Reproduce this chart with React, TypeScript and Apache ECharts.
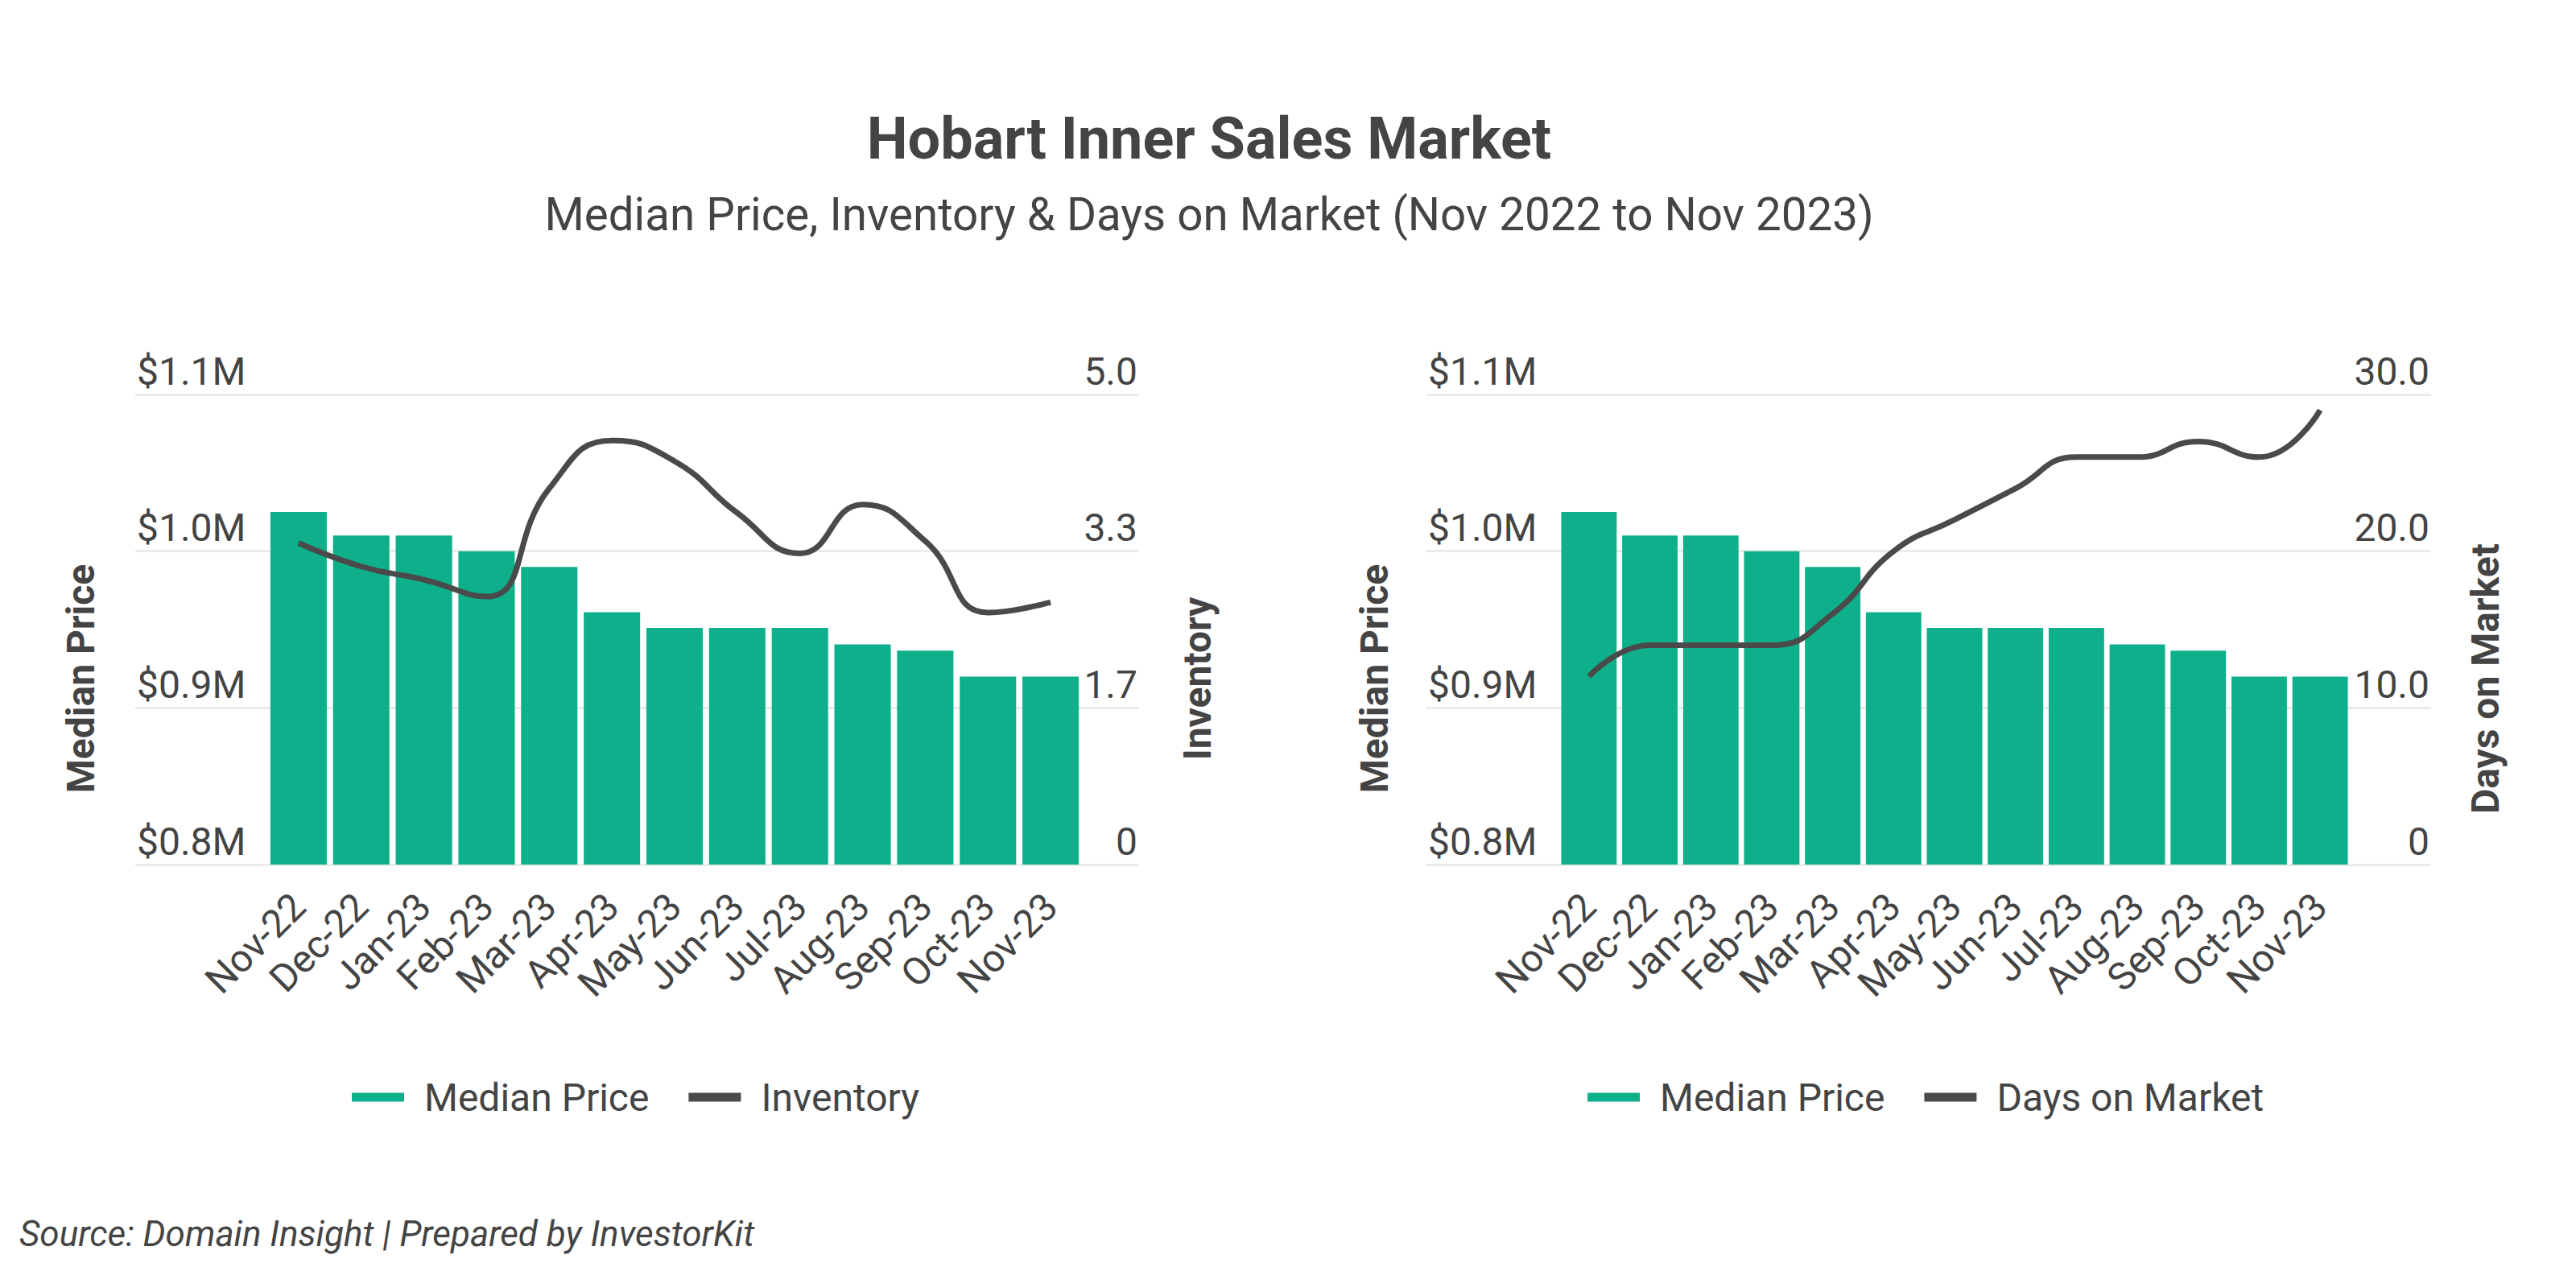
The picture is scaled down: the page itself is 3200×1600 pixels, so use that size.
import React, { useEffect, useRef } from "react";
import * as echarts from "echarts";

const months = ["Nov-22","Dec-22","Jan-23","Feb-23","Mar-23","Apr-23","May-23","Jun-23","Jul-23","Aug-23","Sep-23","Oct-23","Nov-23"];
const medianPrice = [1025000, 1010000, 1010000, 1000000, 990000, 961000, 951000, 951000, 951000, 940500, 936500, 920000, 920000];
const inventory = [3.42, 3.17, 3.03, 2.85, 4.0, 4.51, 4.29, 3.74, 3.31, 3.83, 3.44, 2.68, 2.79];
const daysOnMarket = [12, 14, 14, 14, 16, 20, 22, 24, 26, 26, 27, 26, 29];
const priceTicks = { min: 800000, max: 1100000, interval: 100000 };
const inventoryTicks = { min: 0, max: 5, interval: 5 / 3 };
const domTicks = { min: 0, max: 30, interval: 10 };

const TEXT = "#444444";
const GREEN = "#0db08a";
const DARK = "#4a4a4a";
const FONT = "Roboto";

const priceFmt = (v: number) => "$" + (v / 1e6).toFixed(1) + "M";
const numFmt = (v: number) => (Math.abs(v) < 1e-9 ? "0" : v.toFixed(1));

function wideAxes(gridIndex: number, right: { min: number; max: number; interval: number }) {
  const label = {
    inside: true,
    fontSize: 48,
    color: TEXT,
    fontFamily: FONT,
    verticalAlign: "bottom",
    lineHeight: 58,
    margin: 2,
  };
  return [
    {
      type: "value",
      gridIndex,
      position: "left",
      ...priceTicks,
      axisLine: { show: false },
      axisTick: { show: false },
      axisLabel: { ...label, formatter: priceFmt },
      splitLine: { show: true, lineStyle: { color: "#ebebeb", width: 3 } },
    },
    {
      type: "value",
      gridIndex,
      position: "right",
      ...right,
      axisLine: { show: false },
      axisTick: { show: false },
      axisLabel: { ...label, formatter: numFmt },
      splitLine: { show: false },
    },
  ];
}

function hiddenAxes(gridIndex: number, right: { min: number; max: number; interval: number }) {
  return [
    { type: "value", gridIndex, position: "left", ...priceTicks, show: false, splitLine: { show: false } },
    { type: "value", gridIndex, position: "right", ...right, show: false, splitLine: { show: false } },
  ];
}

function catAxis(gridIndex: number) {
  return {
    type: "category",
    gridIndex,
    data: months,
    axisLine: { show: false },
    axisTick: { show: false },
    axisLabel: {
      interval: 0,
      rotate: 45,
      fontSize: 48,
      color: TEXT,
      fontFamily: FONT,
      margin: 44,
    },
  };
}

export default function App() {
  const ref = useRef<HTMLDivElement>(null);
  useEffect(() => {
    document.body.style.margin = "0";
    if (!ref.current) return;
    const chart = echarts.init(ref.current, null, { renderer: "svg" });
    const axisNameStyle = { fontSize: 48, fontWeight: "bold", fill: TEXT, fontFamily: FONT, textAlign: "center", textVerticalAlign: "middle" };
    const option: any = {
      animation: false,
      backgroundColor: "#ffffff",
      textStyle: { fontFamily: FONT },
      title: [
        {
          text: "Hobart Inner Sales Market",
          left: 1502,
          top: 136,
          textAlign: "center",
          padding: 0,
          textStyle: { fontSize: 72, fontWeight: "bold", color: TEXT, fontFamily: FONT, lineHeight: 72 },
        },
        {
          text: "Median Price, Inventory & Days on Market (Nov 2022 to Nov 2023)",
          left: 1502,
          top: 239,
          textAlign: "center",
          padding: 0,
          textStyle: { fontSize: 56.5, fontWeight: "normal", color: TEXT, fontFamily: FONT, lineHeight: 56 },
        },
        {
          text: "Source: Domain Insight | Prepared by InvestorKit",
          left: 24,
          top: 1511,
          padding: 0,
          textStyle: { fontSize: 44, fontWeight: "normal", fontStyle: "italic", color: TEXT, fontFamily: FONT, lineHeight: 44 },
        },
      ],
      legend: [
        {
          data: ["Median Price", "Inventory"],
          left: 437,
          top: 1339,
          padding: 0,
          icon: "rect",
          itemWidth: 65,
          itemHeight: 11,
          itemGap: 49,
          selectedMode: false,
          textStyle: { fontSize: 48, color: TEXT, fontFamily: FONT, lineHeight: 48, padding: [0, 0, 0, 20] },
        },
        {
          data: ["Median Price", "Days on Market"],
          left: 1972,
          top: 1339,
          padding: 0,
          icon: "rect",
          itemWidth: 65,
          itemHeight: 11,
          itemGap: 49,
          selectedMode: false,
          textStyle: { fontSize: 48, color: TEXT, fontFamily: FONT, lineHeight: 48, padding: [0, 0, 0, 20] },
        },
      ],
      grid: [
        { left: 168, top: 490, width: 1247, height: 584 },
        { left: 332, top: 490, width: 1012, height: 584 },
        { left: 1772, top: 490, width: 1248, height: 584 },
        { left: 1936, top: 490, width: 984, height: 584 },
      ],
      xAxis: [
        { type: "value", gridIndex: 0, show: false, min: 0, max: 1, splitLine: { show: false } },
        catAxis(1),
        { type: "value", gridIndex: 2, show: false, min: 0, max: 1, splitLine: { show: false } },
        catAxis(3),
      ],
      yAxis: [
        ...wideAxes(0, inventoryTicks),
        ...hiddenAxes(1, inventoryTicks),
        ...wideAxes(2, domTicks),
        ...hiddenAxes(3, domTicks),
      ],
      series: [
        {
          name: "Median Price",
          type: "bar",
          xAxisIndex: 1,
          yAxisIndex: 2,
          data: medianPrice,
          barCategoryGap: "10%",
          itemStyle: { color: GREEN },
        },
        {
          name: "Inventory",
          type: "line",
          xAxisIndex: 1,
          yAxisIndex: 3,
          data: inventory,
          smooth: 0.5,
          symbol: "none",
          color: DARK,
          itemStyle: { color: DARK },
          lineStyle: { color: DARK, width: 7 },
        },
        {
          name: "Median Price",
          type: "bar",
          xAxisIndex: 3,
          yAxisIndex: 6,
          data: medianPrice,
          barCategoryGap: "9%",
          itemStyle: { color: GREEN },
        },
        {
          name: "Days on Market",
          type: "line",
          xAxisIndex: 3,
          yAxisIndex: 7,
          data: daysOnMarket,
          smooth: 0.5,
          symbol: "none",
          color: DARK,
          itemStyle: { color: DARK },
          lineStyle: { color: DARK, width: 7 },
        },
      ],
      graphic: [
        { type: "text", x: 100, y: 843, rotation: Math.PI / 2, style: { ...axisNameStyle, text: "Median Price" } },
        { type: "text", x: 1487, y: 843, rotation: Math.PI / 2, style: { ...axisNameStyle, text: "Inventory" } },
        { type: "text", x: 1707, y: 843, rotation: Math.PI / 2, style: { ...axisNameStyle, text: "Median Price" } },
        { type: "text", x: 3087, y: 843, rotation: Math.PI / 2, style: { ...axisNameStyle, text: "Days on Market" } },
      ],
    };
    chart.setOption(option);
    return () => chart.dispose();
  }, []);
  return <div ref={ref} style={{ width: 3200, height: 1600 }} />;
}
